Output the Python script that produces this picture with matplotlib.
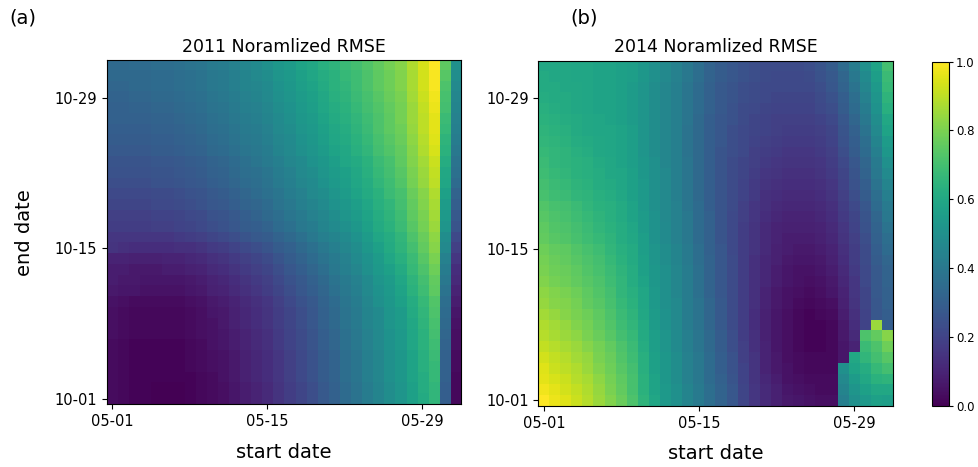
import numpy as np
import matplotlib
matplotlib.use("Agg")
import matplotlib.pyplot as plt

# normalised RMSE (x100), rows = end date 10-01 .. 11-01, cols = start date 05-01 .. 06-01
rmse_2011 = [
    [3, 2, 1, 1, 0, 0, 0, 1, 2, 3, 4, 6, 8, 10, 12, 15, 18, 21, 24, 28, 31, 35, 38, 42, 45, 49, 52, 57, 61, 66, 30, 2],
    [3, 2, 1, 1, 0, 0, 0, 1, 2, 3, 4, 6, 8, 10, 12, 15, 18, 21, 24, 28, 31, 35, 38, 42, 45, 49, 52, 57, 62, 66, 30, 2],
    [3, 2, 1, 1, 1, 1, 1, 1, 2, 3, 5, 7, 9, 11, 13, 16, 19, 22, 25, 29, 32, 36, 39, 43, 46, 50, 53, 58, 62, 67, 31, 2],
    [3, 2, 1, 1, 1, 1, 1, 2, 3, 4, 5, 7, 9, 11, 13, 16, 19, 22, 25, 29, 32, 36, 39, 43, 46, 50, 53, 58, 63, 67, 31, 3],
    [3, 2, 1, 1, 1, 1, 1, 2, 3, 4, 5, 7, 9, 11, 13, 16, 19, 22, 25, 29, 32, 36, 39, 43, 46, 50, 53, 58, 63, 68, 31, 3],
    [3, 2, 1, 1, 1, 1, 1, 2, 3, 5, 6, 8, 10, 12, 14, 17, 20, 23, 26, 30, 33, 37, 40, 44, 47, 51, 54, 59, 64, 69, 32, 4],
    [4, 3, 2, 2, 2, 2, 2, 3, 4, 5, 6, 8, 10, 12, 14, 17, 20, 23, 26, 30, 33, 37, 40, 44, 47, 51, 54, 59, 64, 70, 33, 4],
    [4, 3, 2, 2, 2, 2, 2, 3, 4, 5, 7, 9, 11, 13, 15, 18, 21, 24, 27, 31, 34, 38, 41, 45, 48, 52, 55, 60, 65, 71, 34, 5],
    [4, 3, 2, 2, 2, 2, 2, 3, 4, 6, 7, 9, 11, 13, 15, 18, 21, 24, 27, 31, 34, 38, 41, 45, 48, 52, 55, 61, 66, 72, 35, 6],
    [5, 4, 3, 3, 3, 3, 3, 4, 5, 7, 8, 10, 12, 14, 16, 19, 22, 25, 28, 32, 35, 39, 42, 46, 50, 53, 57, 62, 67, 73, 36, 8],
    [7, 6, 6, 5, 5, 5, 5, 6, 7, 9, 10, 12, 14, 16, 18, 21, 24, 27, 30, 33, 37, 40, 43, 47, 51, 54, 58, 64, 69, 75, 38, 10],
    [8, 7, 7, 6, 6, 6, 6, 7, 8, 10, 11, 13, 15, 17, 19, 22, 25, 28, 31, 34, 38, 41, 44, 48, 52, 55, 59, 65, 70, 76, 40, 12],
    [8, 8, 7, 7, 7, 8, 8, 9, 10, 12, 13, 15, 17, 19, 21, 24, 27, 30, 33, 36, 40, 43, 46, 50, 54, 57, 61, 67, 72, 78, 42, 13],
    [10, 10, 9, 9, 9, 10, 10, 11, 12, 14, 15, 17, 19, 21, 23, 26, 29, 32, 35, 38, 41, 44, 48, 51, 55, 59, 63, 68, 74, 80, 44, 16],
    [15, 14, 13, 13, 13, 13, 14, 14, 15, 17, 18, 20, 22, 24, 26, 29, 31, 34, 37, 40, 43, 46, 49, 53, 57, 61, 65, 70, 76, 82, 47, 19],
    [16, 16, 16, 16, 16, 16, 17, 18, 19, 21, 22, 24, 26, 28, 29, 32, 34, 37, 40, 43, 45, 48, 51, 55, 59, 62, 66, 72, 77, 83, 49, 22],
    [18, 18, 18, 18, 19, 19, 20, 21, 22, 24, 25, 27, 29, 30, 32, 35, 37, 40, 42, 45, 48, 50, 53, 57, 61, 64, 68, 74, 79, 85, 52, 26],
    [19, 19, 19, 19, 20, 20, 21, 22, 23, 25, 26, 28, 30, 32, 34, 36, 39, 41, 44, 46, 49, 52, 55, 58, 62, 65, 69, 75, 80, 86, 54, 28],
    [21, 21, 21, 21, 22, 22, 23, 24, 25, 27, 28, 30, 32, 33, 35, 38, 40, 43, 45, 48, 51, 53, 56, 59, 63, 66, 70, 76, 81, 87, 55, 30],
    [22, 22, 22, 22, 23, 23, 24, 25, 26, 28, 29, 31, 33, 35, 37, 39, 42, 44, 47, 49, 52, 55, 58, 61, 64, 68, 71, 77, 82, 88, 57, 32],
    [24, 24, 24, 24, 25, 25, 26, 27, 28, 30, 31, 33, 35, 36, 38, 41, 43, 46, 48, 51, 54, 56, 59, 62, 66, 69, 73, 79, 84, 90, 59, 35],
    [25, 25, 25, 25, 26, 26, 27, 28, 29, 31, 32, 34, 36, 37, 39, 42, 44, 47, 49, 52, 55, 57, 60, 63, 67, 70, 74, 80, 85, 91, 60, 37],
    [26, 26, 26, 26, 27, 27, 28, 29, 30, 32, 33, 35, 37, 39, 41, 43, 46, 48, 51, 53, 56, 59, 61, 64, 68, 71, 75, 81, 86, 92, 62, 38],
    [28, 28, 28, 28, 29, 29, 30, 31, 32, 34, 35, 37, 39, 40, 42, 45, 47, 50, 52, 55, 58, 60, 63, 66, 70, 73, 76, 82, 88, 94, 64, 40],
    [29, 29, 29, 29, 30, 30, 31, 32, 33, 35, 36, 38, 40, 41, 43, 46, 48, 51, 53, 56, 59, 61, 64, 67, 71, 74, 77, 83, 89, 95, 65, 42],
    [30, 30, 30, 30, 31, 31, 32, 33, 34, 36, 37, 39, 41, 42, 44, 47, 49, 52, 54, 57, 60, 62, 65, 68, 72, 75, 78, 84, 90, 96, 67, 43],
    [31, 31, 31, 31, 32, 32, 33, 34, 35, 37, 38, 40, 42, 43, 45, 48, 50, 53, 55, 58, 61, 63, 66, 69, 72, 75, 79, 85, 90, 96, 68, 44],
    [31, 31, 32, 32, 33, 33, 34, 35, 36, 38, 39, 41, 43, 44, 46, 49, 51, 54, 56, 59, 62, 64, 67, 70, 73, 76, 79, 85, 91, 97, 70, 45],
    [32, 32, 33, 33, 34, 34, 35, 36, 37, 39, 40, 42, 44, 45, 47, 50, 52, 55, 57, 60, 63, 65, 68, 71, 74, 77, 80, 86, 92, 98, 71, 46],
    [33, 33, 34, 34, 35, 35, 36, 37, 38, 40, 41, 43, 45, 46, 48, 51, 53, 56, 58, 61, 64, 66, 69, 72, 75, 78, 81, 87, 93, 99, 72, 47],
    [34, 34, 34, 34, 35, 35, 36, 37, 38, 40, 41, 43, 45, 47, 49, 52, 54, 57, 59, 62, 64, 67, 69, 72, 75, 78, 81, 87, 93, 99, 74, 49],
    [34, 34, 35, 35, 36, 36, 37, 38, 39, 41, 42, 44, 46, 48, 50, 53, 55, 58, 60, 63, 65, 68, 70, 73, 76, 79, 82, 88, 94, 100, 75, 50],
]

rmse_2014 = [
    [100, 97, 95, 92, 89, 85, 81, 77, 72, 65, 59, 54, 50, 45, 41, 36, 32, 27, 21, 16, 12, 9, 7, 6, 5, 4, 4, 43, 50, 54, 57, 56],
    [98, 96, 93, 91, 88, 84, 80, 76, 71, 64, 58, 54, 50, 45, 41, 36, 32, 27, 21, 16, 12, 9, 6, 5, 4, 3, 3, 45, 52, 57, 60, 60],
    [96, 94, 92, 89, 87, 83, 79, 75, 71, 64, 58, 53, 49, 44, 40, 35, 31, 26, 20, 15, 11, 8, 5, 4, 3, 3, 3, 47, 55, 60, 64, 65],
    [95, 92, 90, 88, 85, 81, 78, 74, 70, 63, 57, 53, 49, 44, 40, 35, 30, 25, 20, 15, 10, 7, 5, 3, 2, 2, 2, 50, 58, 62, 67, 70],
    [93, 91, 89, 86, 84, 80, 77, 73, 69, 63, 57, 53, 49, 44, 40, 35, 30, 25, 19, 15, 10, 7, 4, 3, 2, 2, 2, 6, 60, 66, 70, 74],
    [91, 89, 87, 85, 82, 79, 76, 72, 68, 62, 56, 52, 48, 43, 39, 34, 29, 24, 19, 14, 10, 6, 4, 2, 1, 1, 2, 6, 10, 68, 72, 78],
    [89, 87, 85, 83, 80, 77, 74, 70, 67, 61, 56, 52, 48, 43, 39, 34, 29, 24, 18, 14, 9, 6, 4, 2, 1, 1, 2, 7, 12, 72, 76, 82],
    [88, 86, 84, 81, 79, 76, 73, 69, 66, 61, 55, 51, 47, 42, 38, 33, 28, 23, 18, 13, 9, 6, 4, 2, 1, 1, 2, 7, 13, 20, 85, 30],
    [86, 84, 82, 80, 78, 75, 72, 68, 65, 60, 55, 51, 47, 42, 38, 33, 28, 23, 18, 13, 9, 6, 4, 2, 1, 2, 3, 8, 14, 20, 27, 30],
    [84, 82, 81, 79, 76, 74, 71, 67, 64, 59, 54, 50, 47, 42, 38, 33, 28, 23, 18, 14, 10, 7, 5, 3, 2, 3, 4, 9, 15, 21, 27, 31],
    [83, 81, 80, 78, 75, 73, 70, 66, 63, 59, 54, 50, 46, 42, 37, 32, 27, 23, 18, 14, 10, 7, 5, 4, 3, 4, 6, 10, 16, 21, 28, 31],
    [81, 79, 78, 76, 74, 72, 69, 66, 62, 58, 53, 50, 46, 42, 37, 32, 27, 23, 18, 14, 11, 8, 6, 5, 4, 5, 7, 11, 16, 22, 28, 32],
    [80, 78, 77, 75, 73, 71, 68, 65, 62, 57, 53, 50, 46, 42, 37, 32, 27, 23, 18, 14, 11, 8, 6, 5, 5, 6, 8, 12, 17, 22, 28, 32],
    [79, 77, 76, 74, 72, 70, 67, 64, 61, 57, 52, 49, 45, 41, 36, 32, 27, 23, 18, 14, 11, 9, 7, 6, 6, 7, 9, 13, 18, 23, 29, 33],
    [78, 76, 75, 73, 71, 69, 66, 63, 61, 56, 52, 49, 45, 41, 36, 31, 27, 22, 18, 15, 12, 9, 8, 7, 7, 8, 10, 14, 18, 23, 30, 35],
    [76, 74, 73, 71, 69, 67, 65, 62, 60, 56, 51, 48, 44, 40, 35, 31, 26, 22, 18, 15, 12, 10, 8, 8, 8, 9, 11, 15, 19, 24, 31, 36],
    [75, 73, 72, 70, 68, 66, 64, 62, 59, 55, 51, 48, 44, 40, 35, 31, 26, 22, 18, 15, 12, 10, 9, 9, 9, 10, 12, 16, 20, 25, 32, 38],
    [74, 72, 71, 69, 67, 65, 63, 61, 58, 55, 51, 47, 44, 40, 35, 31, 26, 22, 19, 16, 13, 11, 10, 10, 10, 11, 13, 17, 21, 26, 33, 40],
    [73, 71, 70, 68, 66, 64, 63, 61, 58, 54, 50, 47, 44, 39, 35, 30, 26, 23, 19, 16, 14, 12, 11, 11, 11, 12, 14, 18, 22, 27, 35, 41],
    [71, 69, 68, 66, 65, 63, 62, 60, 57, 54, 50, 47, 43, 39, 34, 30, 26, 23, 20, 17, 14, 13, 12, 12, 12, 13, 15, 19, 24, 29, 36, 43],
    [70, 68, 67, 65, 64, 62, 61, 59, 57, 54, 50, 47, 43, 39, 34, 30, 26, 23, 20, 17, 15, 14, 13, 13, 13, 14, 16, 20, 25, 30, 38, 45],
    [69, 67, 66, 64, 63, 62, 60, 59, 57, 53, 50, 47, 43, 39, 34, 30, 26, 23, 21, 18, 16, 15, 14, 14, 14, 15, 17, 21, 26, 32, 40, 48],
    [68, 66, 65, 64, 63, 61, 60, 58, 56, 53, 50, 46, 43, 39, 34, 30, 26, 23, 21, 19, 17, 16, 15, 15, 15, 16, 18, 22, 27, 33, 41, 50],
    [67, 66, 65, 63, 62, 60, 59, 58, 56, 52, 49, 46, 43, 38, 34, 30, 26, 24, 22, 19, 18, 17, 16, 16, 16, 17, 19, 24, 29, 35, 43, 53],
    [66, 65, 64, 62, 61, 60, 59, 58, 56, 52, 49, 46, 43, 38, 34, 30, 27, 24, 22, 20, 19, 18, 17, 17, 17, 18, 20, 25, 30, 36, 45, 55],
    [65, 64, 63, 61, 60, 59, 59, 58, 56, 52, 49, 46, 43, 38, 34, 30, 27, 24, 22, 21, 20, 19, 18, 18, 18, 19, 21, 26, 31, 38, 47, 58],
    [64, 63, 62, 61, 60, 59, 58, 57, 55, 52, 49, 46, 43, 39, 34, 30, 27, 25, 23, 21, 20, 19, 19, 19, 19, 20, 22, 27, 33, 40, 49, 60],
    [63, 62, 61, 60, 59, 58, 58, 57, 55, 52, 49, 46, 43, 39, 35, 31, 28, 25, 23, 22, 21, 20, 20, 20, 20, 22, 24, 29, 35, 42, 51, 63],
    [62, 61, 61, 60, 59, 58, 58, 57, 55, 52, 49, 46, 43, 39, 35, 31, 28, 26, 24, 23, 22, 21, 21, 21, 21, 23, 25, 30, 36, 44, 52, 65],
    [61, 61, 60, 60, 59, 58, 58, 57, 55, 52, 49, 46, 43, 39, 35, 31, 28, 26, 24, 23, 22, 22, 22, 22, 22, 24, 27, 32, 38, 46, 54, 67],
    [61, 60, 60, 59, 59, 58, 58, 57, 56, 53, 50, 47, 44, 40, 36, 32, 29, 27, 25, 24, 23, 22, 22, 22, 23, 25, 28, 33, 40, 48, 56, 68],
    [60, 60, 60, 59, 59, 58, 58, 57, 56, 53, 50, 47, 44, 40, 36, 32, 29, 27, 25, 24, 23, 23, 23, 23, 24, 26, 29, 35, 42, 50, 58, 70],
]

years = ["2011", "2014"]
panel_tags = ["(a)", "(b)"]
xtick_pos = [0, 14, 28]
xtick_labels = ["05-01", "05-15", "05-29"]
ytick_pos = [0, 14, 28]
ytick_labels = ["10-01", "10-15", "10-29"]
cbar_ticks = [0.0, 0.2, 0.4, 0.6, 0.8, 1.0]

grids = [np.array(rmse_2011) / 100.0, np.array(rmse_2014) / 100.0]

fig = plt.figure(figsize=(9.79, 4.67), dpi=100)
ax_boxes = [[0.109, 0.134, 0.362, 0.737], [0.550, 0.131, 0.362, 0.739]]

for i, grid in enumerate(grids):
    ax = fig.add_axes(ax_boxes[i])
    im = ax.imshow(grid, origin="lower", aspect="auto", cmap="viridis",
                   vmin=0, vmax=1, interpolation="nearest")
    ax.set_xticks(xtick_pos)
    ax.set_xticklabels(xtick_labels, fontsize=10.5)
    ax.set_yticks(ytick_pos)
    ax.set_yticklabels(ytick_labels, fontsize=10.5)
    ax.set_title(f"{years[i]} Noramlized RMSE", fontsize=12.5, pad=6)
    ax.set_xlabel("start date", fontsize=14, labelpad=10)
    if i == 0:
        ax.set_ylabel("end date", fontsize=14, labelpad=15)

fig.text(0.010, 0.962, panel_tags[0], fontsize=14, va="center")
fig.text(0.583, 0.962, panel_tags[1], fontsize=14, va="center")

# shared colour scale
cax = fig.add_axes([0.952, 0.131, 0.0174, 0.737])
cb = fig.colorbar(im, cax=cax, ticks=cbar_ticks)
cb.ax.tick_params(labelsize=8.5, length=3, pad=2)

fig.savefig("out.png", dpi=100)
